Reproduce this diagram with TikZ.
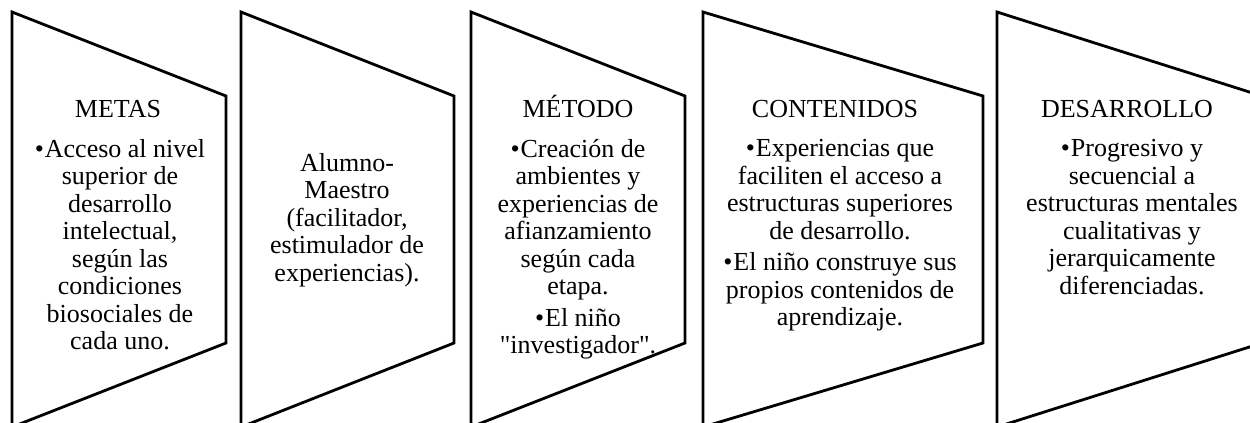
\documentclass[tikz,border=0pt]{standalone}
\usepackage{fontspec}
\setmainfont{Liberation Serif}
\newcommand{\vineta}{\textbullet\kern0.5pt}
\begin{document}
\begin{tikzpicture}[x=0.5pt,y=-0.5pt,line width=1.4pt,
	font=\fontsize{13}{13.75}\selectfont,
	titulo/.style={anchor=base,inner sep=0pt},
	cuerpo/.style={anchor=north,align=center,inner sep=0pt}]
	\useasboundingbox (0,0) rectangle (1250,423);
	\begin{scope}
	\clip (0,0) rectangle (1250,423);
	\draw (12,12)--(226,96)--(226,343)--(12,427)--cycle;
	\draw (241,12)--(454,96)--(454,343)--(241,427)--cycle;
	\draw (471,12)--(685,96)--(685,343)--(471,427)--cycle;
	\draw (703,12)--(983,96)--(983,343)--(703,427)--cycle;
	\draw (997,12)--(1262,96)--(1262,343)--(997,427)--cycle;
	\end{scope}
	% metas
	\node[titulo] (metas) at (118,117) {METAS};
	\node[cuerpo] (metasT) at (120,138) {\vineta Acceso al nivel\\superior de\\desarrollo\\intelectual,\\según las\\condiciones\\biosociales de\\cada uno.};
	% alumno-maestro
	\node[cuerpo] (alumno) at (347,152) {Alumno-\\Maestro\\(facilitador,\\estimulador de\\experiencias).};
	% metodo
	\node[titulo] (metodo) at (578,117) {MÉTODO};
	\node[cuerpo] (metodoT) at (578,138) {\vineta Creación de\\ambientes y\\experiencias de\\afianzamiento\\según cada\\etapa.\\[2pt]\vineta El niño\\\textquotedbl investigador\textquotedbl.};
	% contenidos
	\node[titulo] (conten) at (835,117) {CONTENIDOS};
	\node[cuerpo] (contenT) at (840,138) {\vineta Experiencias que\\faciliten el acceso a\\estructuras superiores\\de desarrollo.\\[2pt]\vineta El niño construye sus\\propios contenidos de\\aprendizaje.};
	% desarrollo
	\node[titulo] (desarr) at (1127,117) {DESARROLLO};
	\node[cuerpo] (desarrT) at (1132,138) {\vineta Progresivo y\\secuencial a\\estructuras mentales\\cualitativas y\\jerarquicamente\\diferenciadas.};
\end{tikzpicture}
\end{document}
